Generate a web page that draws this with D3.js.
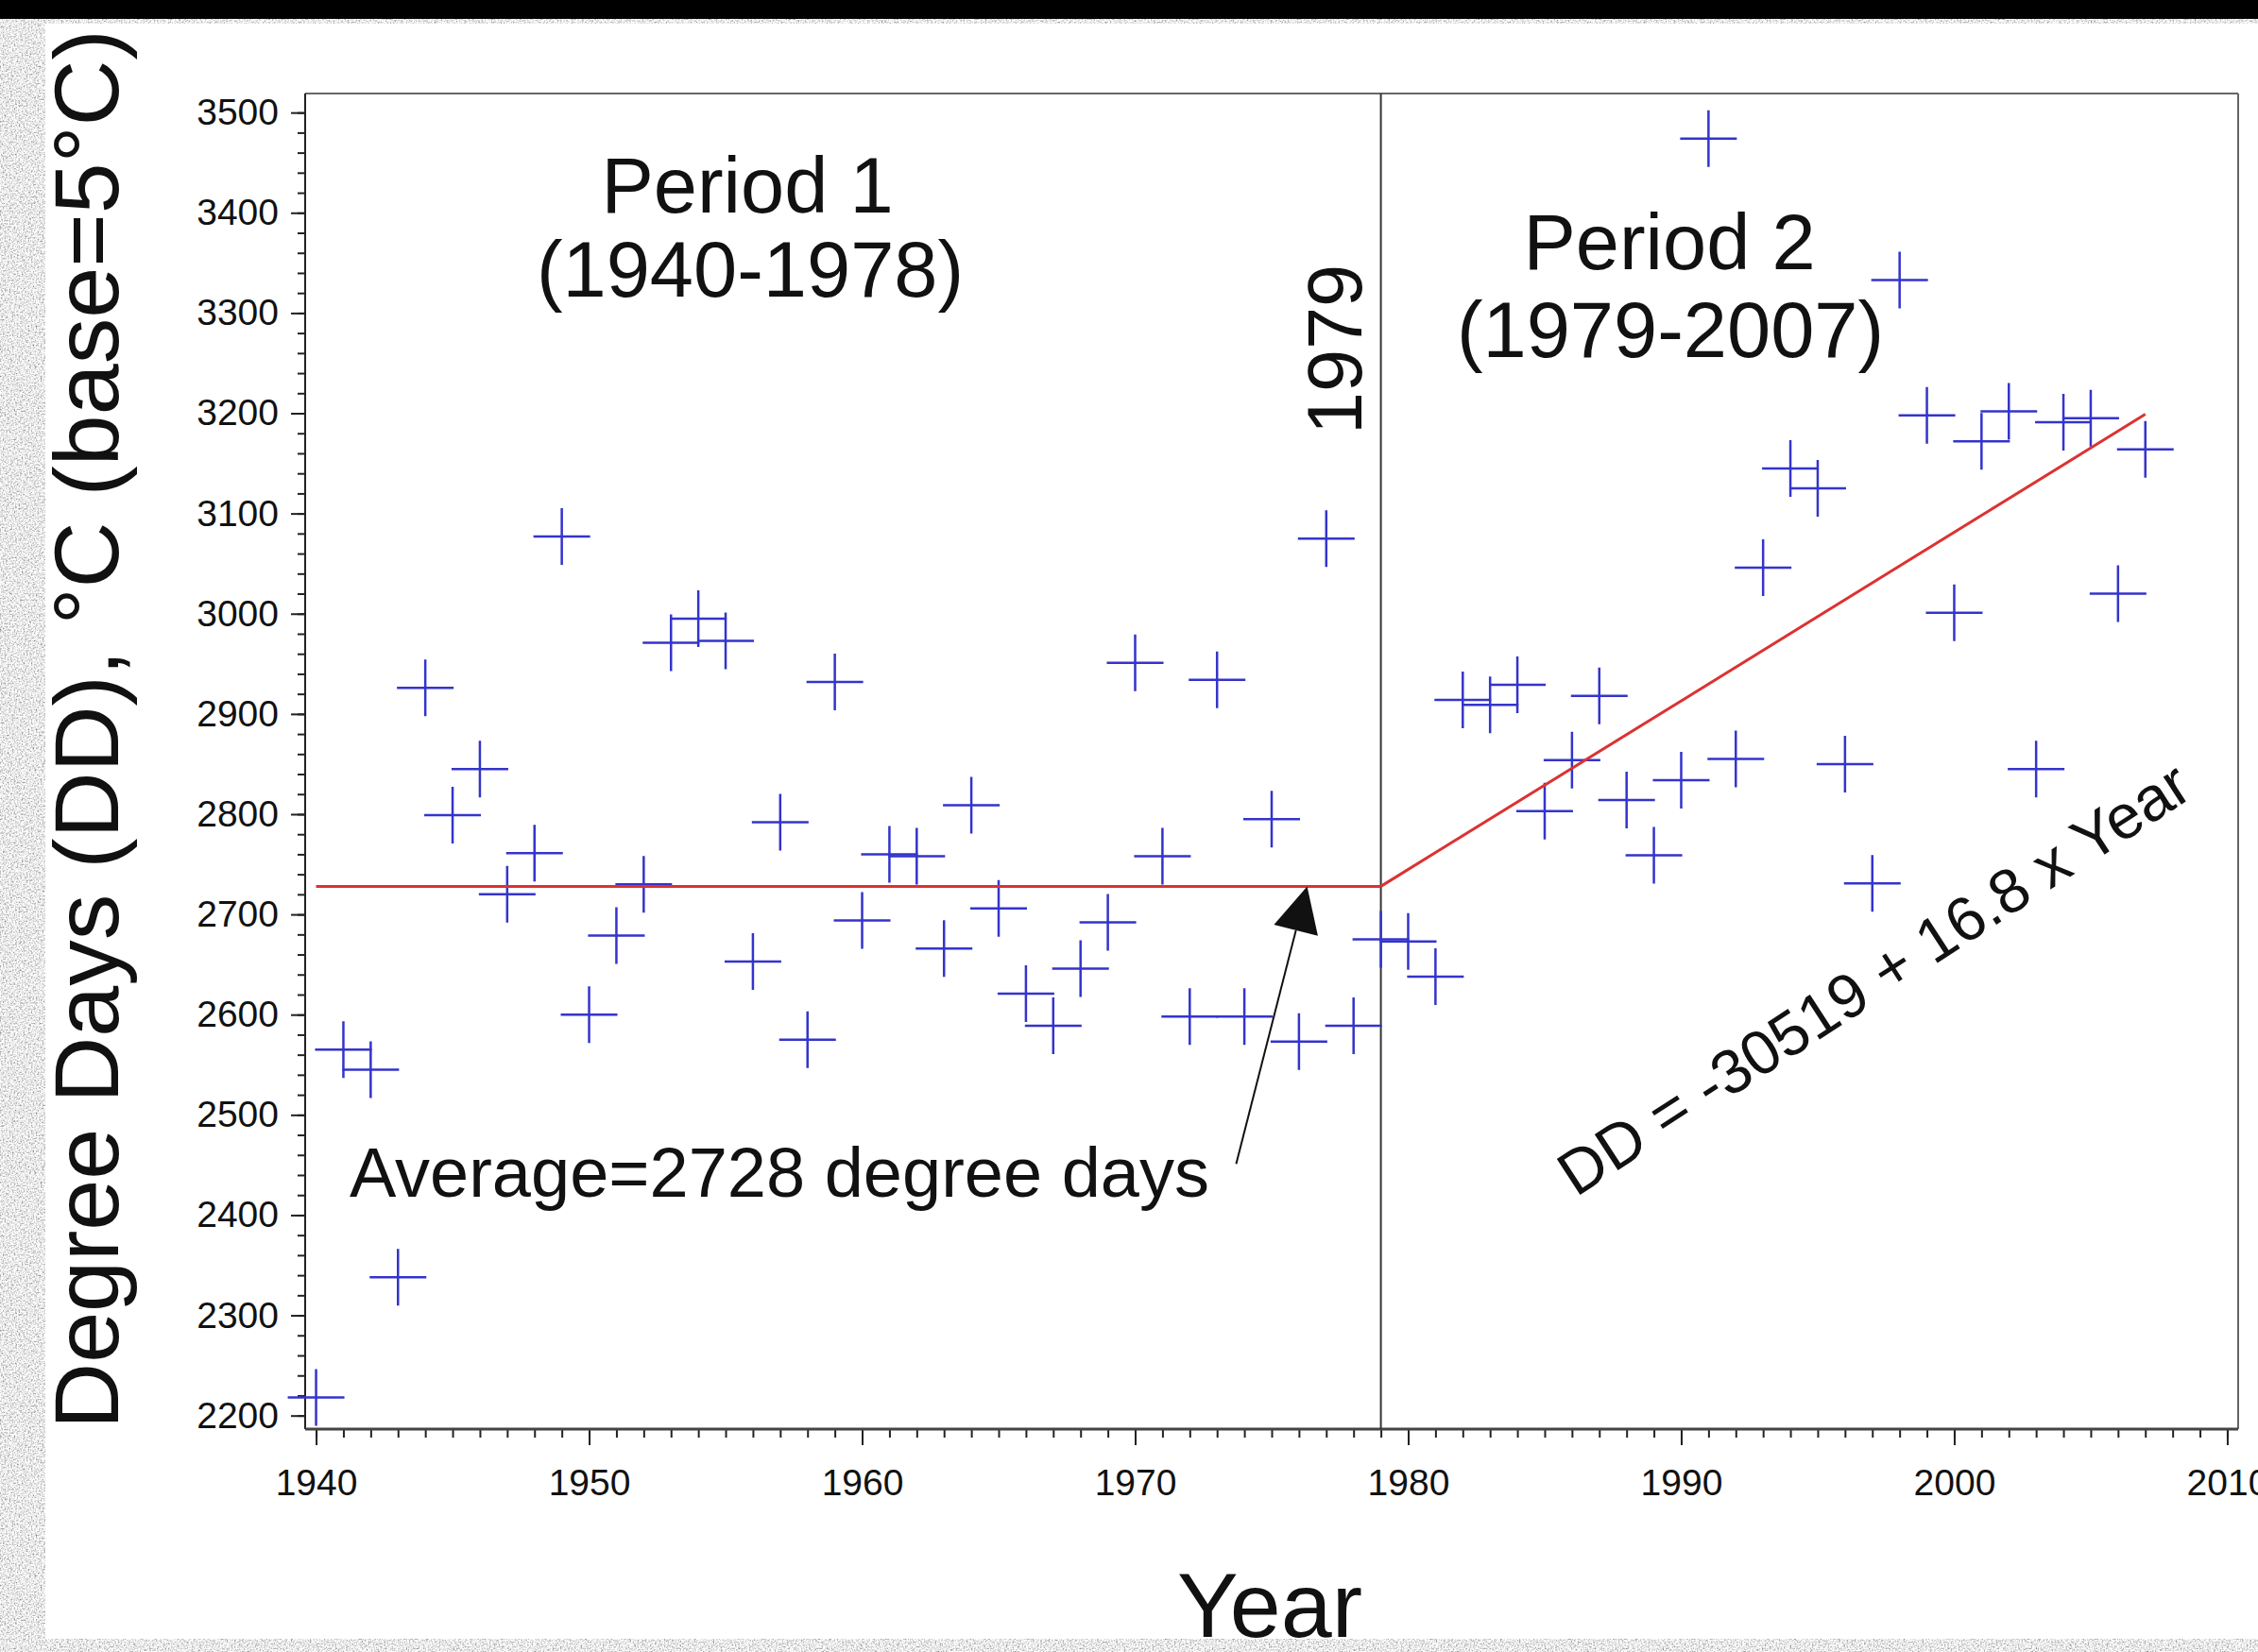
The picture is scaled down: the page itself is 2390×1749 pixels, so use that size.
<!DOCTYPE html>
<html>
<head>
<meta charset="utf-8">
<script src="https://cdn.jsdelivr.net/npm/d3@7"></script>
<style>
  body { margin: 0; background: #fff; }
  svg text { font-family: "Liberation Sans", Arial, Helvetica, sans-serif; fill: #111; }
</style>
</head>
<body>
<div id="chart"></div>
<script>
// degree days per year
const period1Years = [1940, 1941, 1942, 1943, 1944, 1945, 1946, 1947, 1948, 1949,
  1950, 1951, 1952, 1953, 1954, 1955, 1956, 1957, 1958, 1959,
  1960, 1961, 1962, 1963, 1964, 1965, 1966, 1967, 1968, 1969,
  1970, 1971, 1972, 1973, 1974, 1975, 1976, 1977, 1978];
const period1DD = [2218, 2565, 2545, 2338, 2926, 2799, 2845, 2720, 2761, 3077,
  2600, 2679, 2730, 2971, 2995, 2973, 2653, 2792, 2575, 2932,
  2694, 2760, 2758, 2666, 2809, 2706, 2621, 2589, 2646, 2692,
  2951, 2758, 2598, 2934, 2598, 2795, 2573, 3075, 2589];
const period2Years = [1979, 1980, 1981, 1982, 1983, 1984, 1985, 1986, 1987, 1988,
  1989, 1990, 1991, 1992, 1993, 1994, 1995, 1996, 1997, 1998,
  1999, 2000, 2001, 2002, 2003, 2004, 2005, 2006, 2007];
const period2DD = [2675, 2673, 2638, 2914, 2909, 2929, 2803, 2854, 2918, 2814,
  2759, 2834, 3474, 2855, 3046, 3145, 3125, 2850, 2731, 3333,
  3198, 3001, 3172, 3202, 2845, 3191, 3195, 3020, 3164];

// fitted lines: period 1 average, period 2 regression
const avgYears = [1940, 1979];
const avgDD = [2728, 2728];
const trendYears = [1979, 2007];
const trendDD = [2728, 3199];
const breakYear = 1979;

const xMajorTicks = [1940, 1950, 1960, 1970, 1980, 1990, 2000, 2010];
const yMajorTicks = [2200, 2300, 2400, 2500, 2600, 2700, 2800, 2900, 3000, 3100, 3200, 3300, 3400, 3500];

const width = 2390, height = 1749;
const plot = { left: 323, right: 2369, top: 99, bottom: 1513 };

const svg = d3.select("#chart").append("svg")
  .attr("width", width)
  .attr("height", height);

// grey stone backdrop round the white slide
const defs = svg.append("defs");
const granite = defs.append("filter").attr("id", "granite")
  .attr("x", 0).attr("y", 0).attr("width", "100%").attr("height", "100%");
granite.append("feTurbulence")
  .attr("type", "fractalNoise").attr("baseFrequency", 0.6).attr("numOctaves", 3).attr("seed", 4);
granite.append("feColorMatrix").attr("type", "matrix")
  .attr("values", "1.6 0 0 0 0.02  1.6 0 0 0 0.02  1.6 0 0 0 0.02  0 0 0 0 1");

svg.append("rect").attr("width", width).attr("height", height).attr("filter", "url(#granite)");
svg.append("rect").attr("width", width).attr("height", 20).attr("fill", "#000");
svg.append("rect").attr("x", 48).attr("y", 25).attr("width", width - 48).attr("height", 1710).attr("fill", "#fff");

const x = d3.scaleLinear().domain([1939.6, 2010.4]).range([plot.left, plot.right]);
const y = d3.scaleLinear().domain([2186.5, 3519]).range([plot.bottom, plot.top]);

// axes (minor + major)
const gx = svg.append("g").attr("transform", `translate(0,${plot.bottom})`);
gx.append("g").call(d3.axisBottom(x).tickValues(d3.range(1940, 2011)).tickSize(9).tickFormat(""));
gx.append("g").call(d3.axisBottom(x).tickValues(xMajorTicks).tickSize(17).tickPadding(25).tickFormat(d3.format("d")));

const gy = svg.append("g").attr("transform", `translate(${plot.left},0)`);
gy.append("g").call(d3.axisLeft(y).tickValues(d3.range(2200, 3501, 20)).tickSize(8).tickFormat(""));
gy.append("g").call(d3.axisLeft(y).tickValues(yMajorTicks).tickSize(15).tickPadding(13).tickFormat(d3.format("d")));

svg.selectAll(".domain").remove();
svg.selectAll(".tick line").attr("stroke", "#222").attr("stroke-width", 2);
svg.selectAll(".tick text").style("font-size", "39px").attr("fill", "#111");

// frame
svg.append("line").attr("x1", plot.left).attr("x2", plot.right).attr("y1", plot.top).attr("y2", plot.top)
  .attr("stroke", "#666").attr("stroke-width", 2);
svg.append("line").attr("x1", plot.right).attr("x2", plot.right).attr("y1", plot.top).attr("y2", plot.bottom)
  .attr("stroke", "#666").attr("stroke-width", 2);
svg.append("line").attr("x1", plot.left).attr("x2", plot.left).attr("y1", plot.top).attr("y2", plot.bottom)
  .attr("stroke", "#222").attr("stroke-width", 2);
svg.append("line").attr("x1", plot.left).attr("x2", plot.right).attr("y1", plot.bottom).attr("y2", plot.bottom)
  .attr("stroke", "#444").attr("stroke-width", 3);

// break year
svg.append("line")
  .attr("x1", x(breakYear)).attr("x2", x(breakYear))
  .attr("y1", plot.top).attr("y2", plot.bottom)
  .attr("stroke", "#333").attr("stroke-width", 2);

// points as thin crosses
const points = period1Years.map((yr, i) => ({ year: yr, dd: period1DD[i] }))
  .concat(period2Years.map((yr, i) => ({ year: yr, dd: period2DD[i] })));
const arm = 30;
svg.append("g").selectAll("path")
  .data(points)
  .enter().append("path")
  .attr("d", d => {
    const cx = x(d.year), cy = y(d.dd);
    return `M${cx - arm},${cy}H${cx + arm}M${cx},${cy - arm}V${cy + arm}`;
  })
  .attr("fill", "none")
  .attr("stroke", "#3434cc")
  .attr("stroke-width", 2.5);

// red fitted lines
const line = d3.line().x(d => x(d[0])).y(d => y(d[1]));
[[avgYears, avgDD], [trendYears, trendDD]].forEach(([ys, vs]) => {
  svg.append("path")
    .datum(ys.map((yr, i) => [yr, vs[i]]))
    .attr("d", line)
    .attr("fill", "none")
    .attr("stroke", "#dc3232")
    .attr("stroke-width", 3);
});

// axis titles
svg.append("text")
  .attr("x", 1344).attr("y", 1733)
  .attr("text-anchor", "middle")
  .style("font-size", "97px")
  .text("Year");

svg.append("text")
  .attr("transform", "translate(125,772) rotate(-90)")
  .attr("text-anchor", "middle")
  .style("font-size", "97px")
  .text("Degree Days (DD), °C (base=5°C)");

// period labels
const label = (txt, px, py, size) => svg.append("text")
  .attr("x", px).attr("y", py)
  .attr("text-anchor", "middle")
  .style("font-size", size + "px")
  .text(txt);
label("Period 1", 791, 225, 83);
label("(1940-1978)", 794, 314, 83);
label("Period 2", 1767, 285, 83);
label("(1979-2007)", 1768, 378, 83);

svg.append("text")
  .attr("transform", `translate(${x(breakYear) - 21},370) rotate(-90)`)
  .attr("text-anchor", "middle")
  .style("font-size", "81px")
  .text("1979");

// average note + arrow
svg.append("text")
  .attr("x", 370).attr("y", 1267)
  .style("font-size", "74px")
  .text("Average=2728 degree days");

const tip = [x(1976.3), y(avgDD[0])];
const tail = [x(1973.7), y(2451)];
const len = Math.hypot(tip[0] - tail[0], tip[1] - tail[1]);
const ux = (tip[0] - tail[0]) / len, uy = (tip[1] - tail[1]) / len;
const head = 48, half = 24;
const base = [tip[0] - ux * head, tip[1] - uy * head];
svg.append("line")
  .attr("x1", tail[0]).attr("y1", tail[1])
  .attr("x2", base[0]).attr("y2", base[1])
  .attr("stroke", "#111").attr("stroke-width", 2);
svg.append("path")
  .attr("d", `M${tip[0]},${tip[1]}L${base[0] - uy * half},${base[1] + ux * half}L${base[0] + uy * half},${base[1] - ux * half}Z`)
  .attr("fill", "#111");

// regression equation
svg.append("text")
  .attr("transform", "translate(1668,1268) rotate(-33)")
  .style("font-size", "66px")
  .text("DD = -30519 + 16.8 x Year");
</script>
</body>
</html>
